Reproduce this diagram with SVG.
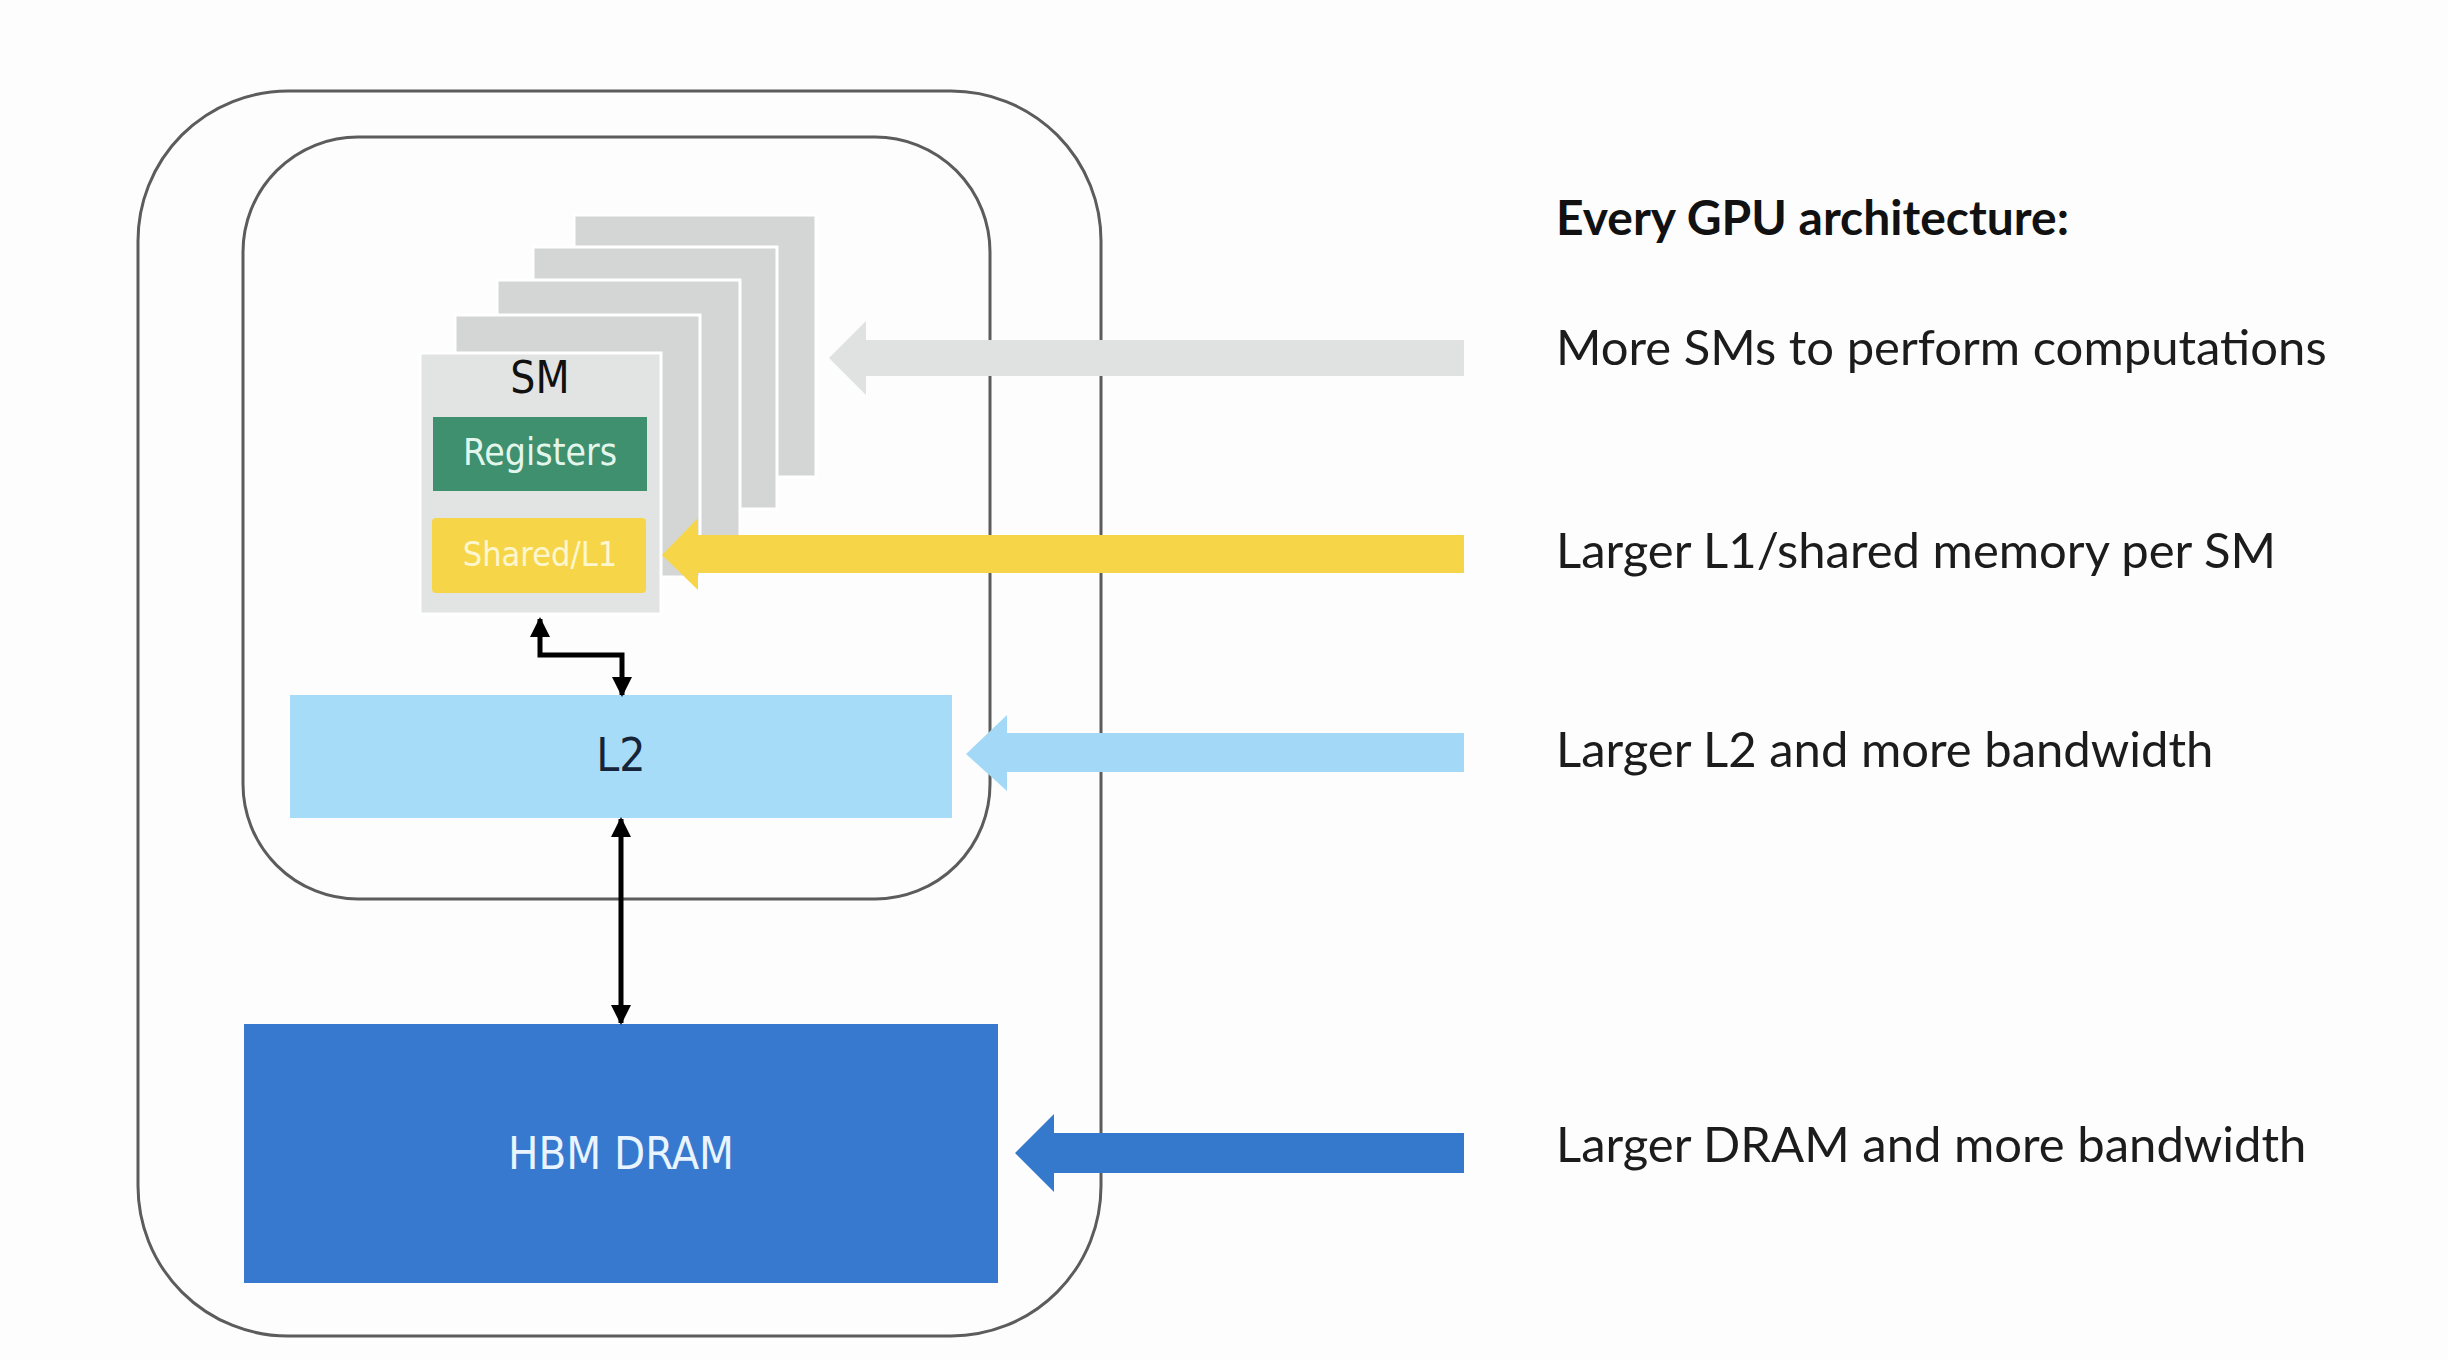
<svg xmlns="http://www.w3.org/2000/svg" width="2448" height="1360" viewBox="0 0 2448 1360">
<style>
.frame{fill:none;stroke:#5c5c5c;stroke-width:3}
.card{fill:#d4d5d5;stroke:#ffffff;stroke-width:3}
.front{fill:#e2e3e3;stroke:#ffffff;stroke-width:3}
.lbl{font-family:"DejaVu Sans Condensed","DejaVu Sans",sans-serif;font-stretch:condensed;text-anchor:middle}
.desc{font-family:Lato,"Liberation Sans",sans-serif;font-size:49px;fill:#1c1c1c}
.conn{fill:none;stroke:#000;stroke-width:5}
</style>
<defs>
<marker id="ah" viewBox="0 0 20 20" refX="18" refY="10" markerWidth="4" markerHeight="4" orient="auto-start-reverse" markerUnits="strokeWidth">
<path d="M0,0 L20,10 L0,20 Z" fill="#000"/>
</marker>
</defs>
<rect width="2448" height="1360" fill="#fdfdfd"/>
<g id="gpu">
<rect class="frame" x="138" y="91" width="963" height="1245" rx="150" ry="150"/>
</g>
<g id="chip">
<rect class="frame" x="243" y="137" width="747" height="762" rx="115" ry="115"/>
</g>
<g id="sm-stack">
<rect class="card" x="574" y="215" width="242" height="262"/>
<rect class="card" x="533" y="247" width="244" height="262"/>
<rect class="card" x="497" y="280" width="243" height="262"/>
<rect class="card" x="455" y="315" width="245" height="262"/>
</g>
<g id="sm">
<rect class="front" x="420" y="353" width="241" height="261"/>
<text class="lbl" x="540" y="393" font-size="44" fill="#111">SM</text>
</g>
<g id="registers">
<rect x="433" y="417" width="214" height="74" fill="#3e906e"/>
<text class="lbl" x="540" y="465" font-size="37" fill="#e2f6ec">Registers</text>
</g>
<g id="shared">
<rect x="432" y="518" width="214" height="75" rx="4" fill="#f6d648"/>
<text class="lbl" x="540" y="566" font-size="34" fill="#fdf6cf">Shared/L1</text>
</g>
<g id="l2">
<rect x="290" y="695" width="662" height="123" fill="#a6dcf8"/>
<text class="lbl" x="621" y="771" font-size="46" fill="#16243a">L2</text>
</g>
<g id="dram">
<rect x="244" y="1024" width="754" height="259" fill="#3679cf"/>
<text class="lbl" x="621" y="1169" font-size="45" fill="#eaf4ff">HBM DRAM</text>
</g>
<g id="callouts">
<polygon points="829,358 866,321 866,340 1464,340 1464,376 866,376 866,395" fill="#e0e1e1"/>
<polygon points="662,555 698,518 698,535 1464,535 1464,573 698,573 698,590" fill="#f6d648"/>
<polygon points="966,754 1007,715 1007,733 1464,733 1464,772 1007,772 1007,791" fill="#a3d9f7"/>
<polygon points="1015,1153 1054,1114 1054,1133 1464,1133 1464,1173 1054,1173 1054,1192" fill="#3579cd"/>
</g>
<g id="connectors">
<path class="conn" d="M540,619 L540,655 L622,655 L622,695" marker-start="url(#ah)" marker-end="url(#ah)"/>
<path class="conn" d="M621,819 L621,1023" stroke-width="4" marker-start="url(#ah)" marker-end="url(#ah)"/>
</g>
<g id="text">
<text x="1556" y="235" font-family="Lato,'Liberation Sans',sans-serif" font-size="48" font-weight="bold" fill="#111">Every GPU architecture:</text>
<text class="desc" x="1556" y="365">More SMs to perform computations</text>
<text class="desc" x="1556" y="568">Larger L1/shared memory per SM</text>
<text class="desc" x="1556" y="767">Larger L2 and more bandwidth</text>
<text class="desc" x="1556" y="1162">Larger DRAM and more bandwidth</text>
</g>
</svg>
